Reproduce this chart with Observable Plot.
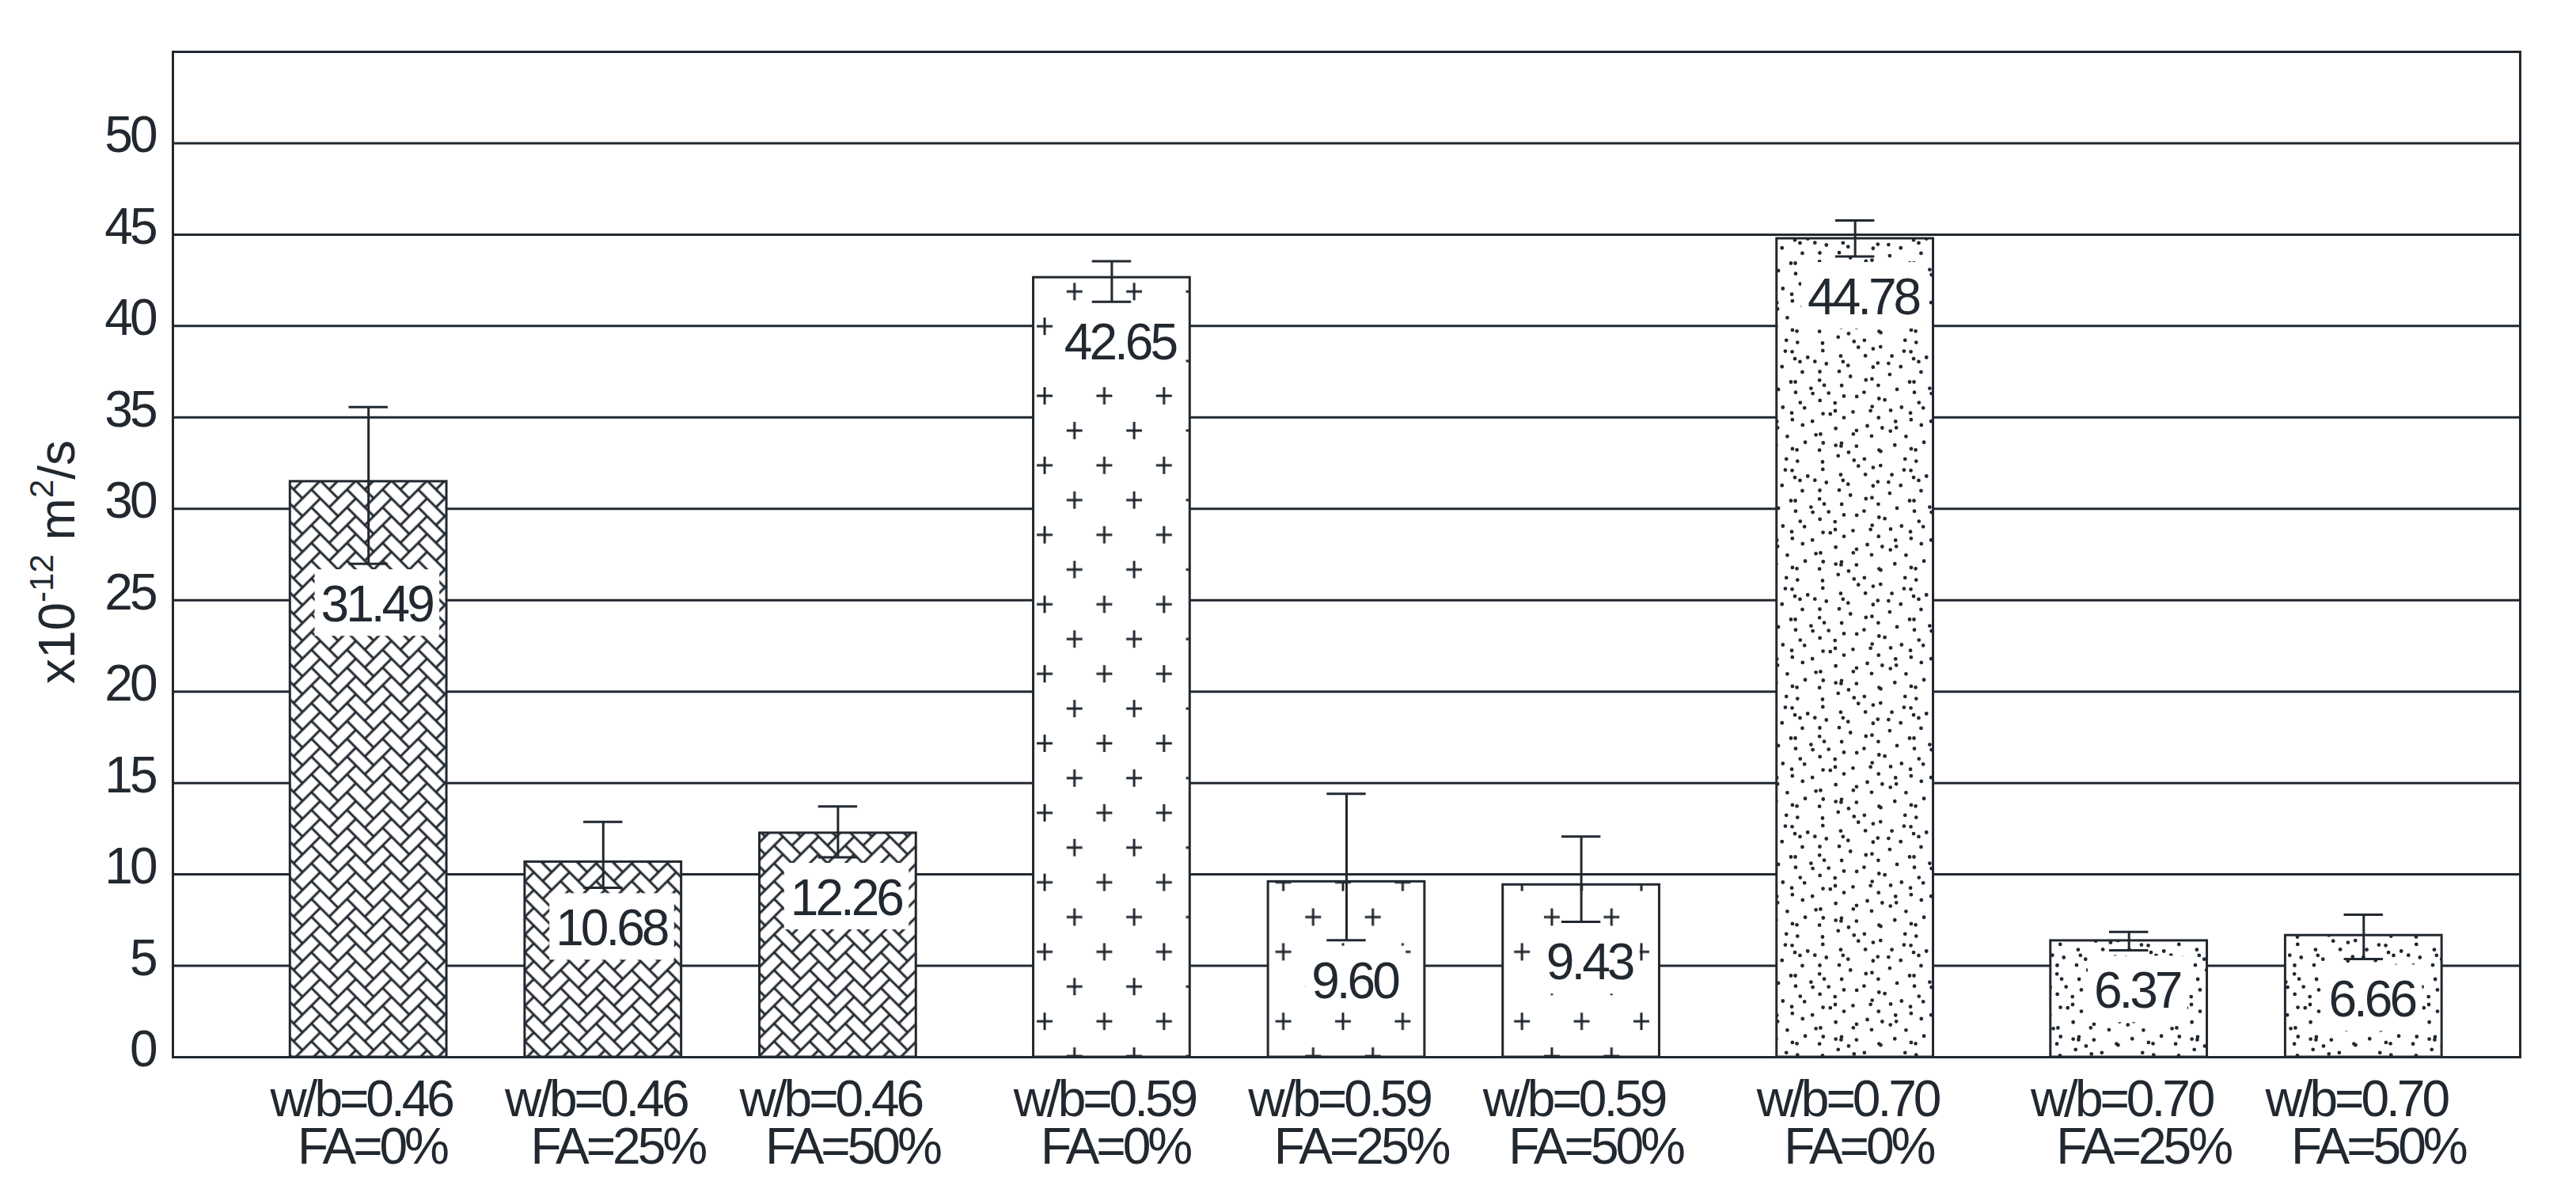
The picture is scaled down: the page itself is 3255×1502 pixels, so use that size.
<!DOCTYPE html>
<html><head><meta charset="utf-8">
<script src="https://cdn.jsdelivr.net/npm/d3@7"></script>
<script src="https://cdn.jsdelivr.net/npm/@observablehq/plot@0.6"></script>
<style>
html,body{margin:0;padding:0;background:#fff;overflow:hidden}
svg text{letter-spacing:-4px}
</style></head><body>
<div id="chart"></div>
<script>
// ---- data ----
const wb = ["0.46","0.46","0.46","0.59","0.59","0.59","0.70","0.70","0.70"];
const fa = ["0%","25%","50%","0%","25%","50%","0%","25%","50%"];
const values = [31.49, 10.68, 12.26, 42.65, 9.60, 9.43, 44.78, 6.37, 6.66];
const errPlus = [4.08, 2.19, 1.46, 0.89, 4.81, 2.64, 1.00, 0.48, 1.13];
const errMinus = [4.50, 1.41, 1.33, 1.32, 3.20, 2.02, 0.98, 0.52, 1.29];
const valueLabels = ["31.49","10.68","12.26","42.65","9.60","9.43","44.78","6.37","6.66"];
const yTicks = [0, 5, 10, 15, 20, 25, 30, 35, 40, 45, 50];

// ---- layout ----
const slot = [0, 6, 12, 19, 25, 31, 38, 45, 51]; // bar slots along x (scale units)
const groups = [...new Set(wb)];
const INK = "#22282f";
const halfBar = 2, halfCap = 0.5;

const rows = values.map((v, i) => ({
  x: slot[i], g: groups.indexOf(wb[i]), v,
  hi: v + errPlus[i], lo: v - errMinus[i],
  label: valueLabels[i],
  tick: `w/b=${wb[i]}\n${fa[i] === "0%" ? "\u00a0\u00a0" : "\u00a0\u00a0\u00a0\u00a0"}FA=${fa[i]}`
}));

const barOpts = {x1: d => d.x - halfBar, x2: d => d.x + halfBar, y1: 0, y2: "v"};
const patterns = ["url(#herring)", "url(#plus)", "url(#dots)"];

const chart = Plot.plot({
  width: 3255, height: 1502,
  marginLeft: 218, marginRight: 71, marginTop: 65, marginBottom: 167,
  x: {domain: [-5, 55], axis: null},
  y: {domain: [0, 55], axis: null},
  style: {fontFamily: "'Liberation Sans', Arial, sans-serif", fontSize: "64px", color: INK, background: "#fff"},
  marks: [
    Plot.gridY(yTicks.filter(t => t > 0), {stroke: INK, strokeOpacity: 1, strokeWidth: 3}),
    Plot.rect(rows, {...barOpts, fill: "white"}),
    ...patterns.map((p, g) => Plot.rect(rows.filter(d => d.g === g), {...barOpts, fill: p})),
    Plot.text(rows, {x: "x", y: "lo", text: "label", dy: 52.4, dx: 10, lineAnchor: "middle", fontSize: 64, fill: INK}),
    Plot.rect(rows, {...barOpts, fill: "none", stroke: INK, strokeWidth: 3}),
    Plot.ruleX(rows, {x: "x", y1: "lo", y2: "hi", stroke: INK, strokeWidth: 3}),
    Plot.ruleY(rows, {x1: d => d.x - halfCap, x2: d => d.x + halfCap, y: "hi", stroke: INK, strokeWidth: 3}),
    Plot.ruleY(rows, {x1: d => d.x - halfCap, x2: d => d.x + halfCap, y: "lo", stroke: INK, strokeWidth: 3}),
    Plot.axisY(yTicks, {tickSize: 0, tickPadding: 23, dy: -9, fontSize: 64, label: null}),
    Plot.text(rows, {x: "x", frameAnchor: "bottom", text: "tick", lineAnchor: "top", dy: 31.5, dx: -9.5, lineHeight: 0.9375, fontSize: 64, fill: INK}),
    Plot.frame({stroke: INK, strokeWidth: 3})
  ]
});
document.getElementById("chart").append(chart);

const svg = d3.select(chart);
const defs = svg.insert("defs", ":first-child");

// herringbone pattern (rotated 45°)
{
  const a = 15.9;
  let p = "";
  for (let k = -5; k <= 5; k++) for (let n = -10; n <= 10; n++) {
    const ox = n + 2 * k, oy = n - 2 * k;
    if (ox > 6 || ox < -3 || oy > 6 || oy < -3) continue;
    p += `M${ox * a} ${oy * a}h${2 * a}v${a}h${-2 * a}Z`;
    p += `M${(ox - 1) * a} ${oy * a}h${a}v${2 * a}h${-a}Z`;
  }
  defs.append("pattern").attr("id", "herring").attr("patternUnits", "userSpaceOnUse")
    .attr("width", 4 * a).attr("height", 4 * a).attr("patternTransform", "rotate(45)")
    .append("path").attr("d", p).attr("fill", "none").attr("stroke", INK).attr("stroke-width", 3);
}
// staggered plus pattern
{
  const pat = defs.append("pattern").attr("id", "plus").attr("patternUnits", "userSpaceOnUse")
    .attr("x", 19.35).attr("y", 39.05).attr("width", 75.4).attr("height", 87.8);
  pat.append("path").attr("d", "M8.85 21.95h20M18.85 10.95v22M46.55 65.85h20M56.55 54.85v22")
    .attr("stroke", INK).attr("stroke-width", 3).attr("fill", "none");
}
// stipple pattern (deterministic texture)
{
  const T = 150, N = 92, r = 2.4;
  const h = s => { const v = Math.sin(s) * 43758.5453; return v - Math.floor(v); };
  let p = "";
  for (let i = 0; i < N; i++) {
    const x = (((0.5 + i * 0.7548776662) % 1) * T + (h(i * 12.9898) - 0.5) * 12 + T) % T;
    const y = (((0.5 + i * 0.5698402910) % 1) * T + (h(i * 78.233) - 0.5) * 12 + T) % T;
    for (const dx of [-T, 0, T]) for (const dy of [-T, 0, T]) {
      const cx = x + dx, cy = y + dy;
      if (cx < -5 || cx > T + 5 || cy < -5 || cy > T + 5) continue;
      p += `M${cx - r} ${cy}a${r} ${r} 0 1 0 ${2 * r} 0a${r} ${r} 0 1 0 ${-2 * r} 0Z`;
    }
  }
  defs.append("pattern").attr("id", "dots").attr("patternUnits", "userSpaceOnUse")
    .attr("width", T).attr("height", T)
    .append("path").attr("d", p).attr("fill", INK);
}

// white boxes behind the value labels
const labelSet = new Set(valueLabels);
Array.from(chart.querySelectorAll("text")).forEach(t => {
  if (!labelSet.has(t.textContent)) return;
  const b = t.getBBox();
  const rct = document.createElementNS("http://www.w3.org/2000/svg", "rect");
  rct.setAttribute("x", b.x - 8);
  rct.setAttribute("y", b.y - 8);
  rct.setAttribute("width", b.width + 16);
  rct.setAttribute("height", b.height + 12);
  rct.setAttribute("fill", "#ffffff");
  rct.setAttribute("stroke", "none");
  const tr = t.getAttribute("transform");
  if (tr) rct.setAttribute("transform", tr);
  t.parentNode.insertBefore(rct, t);
});

// y axis title with superscripts
const yl = svg.append("text")
  .attr("transform", "translate(94,710) rotate(-90)")
  .attr("text-anchor", "middle").attr("fill", INK).attr("font-size", 64)
  .style("letter-spacing", "0px");
yl.append("tspan").text("x10");
yl.append("tspan").attr("font-size", 42).attr("dy", -27).text("-12");
yl.append("tspan").attr("dy", 27).text("\u00a0m");
yl.append("tspan").attr("font-size", 42).attr("dy", -27).text("2");
yl.append("tspan").attr("dy", 27).text("/s");
</script>
</body></html>
